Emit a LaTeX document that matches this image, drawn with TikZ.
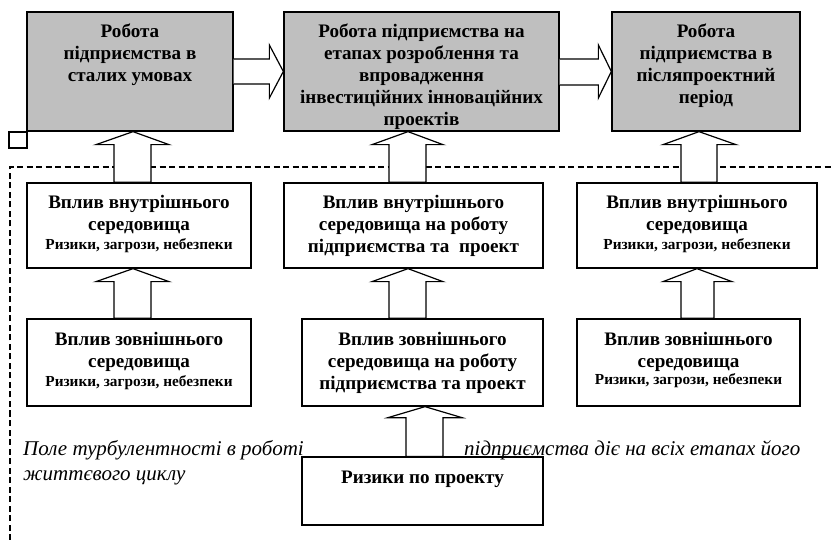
\documentclass[tikz,border=0pt]{standalone}
\usepackage{fontspec}
\setmainfont{Liberation Serif}
\usetikzlibrary{calc}
\newcommand{\mybig}{\bfseries\fontsize{19.1}{21.8}\selectfont}
\newcommand{\mysml}{\bfseries\fontsize{15.3}{17}\selectfont}
\newcommand{\myit}{\itshape\fontsize{21}{24.5}\selectfont}
\newcommand{\vblk}[8]{\draw[barrow] let \p1=(#1.north), \p2=(#2.south) in
  (#4pt,\y1) -- (#4pt,{\y2-#8pt}) -- (#6pt,{\y2-#8pt}) -- (#3pt,\y2) -- (#7pt,{\y2-#8pt}) -- (#5pt,{\y2-#8pt}) -- (#5pt,\y1) -- cycle;}
\newcommand{\hblk}[8]{\draw[barrow] let \p1=(#1.east), \p2=(#2.west) in
  (\x1,-#4pt) -- ({\x2-#8pt},-#4pt) -- ({\x2-#8pt},-#6pt) -- (\x2,-#3pt) -- ({\x2-#8pt},-#7pt) -- ({\x2-#8pt},-#5pt) -- (\x1,-#5pt);}
\begin{document}
\begin{tikzpicture}[x=1pt,y=-1pt,
  gbox/.style={draw,fill=gray!50,line width=1.3pt,inner sep=0pt},
  wbox/.style={draw,fill=white,line width=1.3pt,inner sep=0pt},
  btxt/.style={font=\mybig,align=center,inner sep=0pt,anchor=north},
  stxt/.style={font=\mysml,inner sep=0pt,anchor=center},
  itxt/.style={font=\myit,inner sep=0pt,anchor=base west},
  barrow/.style={draw,fill=white,line width=1.2pt,line join=miter},
  dashline/.style={line width=1.9pt,dash pattern=on 6pt off 3.5pt}]
\useasboundingbox (0,0) rectangle (831,540);
% field of turbulence
\draw[dashline] (10,540) -- (10,167) -- (831,167);
% top row
\node[gbox,minimum width=206,minimum height=119] (b1) at (130,71.5) {};
\node[gbox,minimum width=275,minimum height=119] (b2) at (421.5,71.5) {};
\node[gbox,minimum width=188,minimum height=119] (b3) at (706,71.5) {};
\node[draw,line width=1.1pt,minimum width=18,minimum height=16,inner sep=0pt] (sq) at (18,140) {};
% middle row
\node[wbox,minimum width=224,minimum height=85] (b4) at (139,225.5) {};
\node[wbox,minimum width=259,minimum height=85] (b5) at (413.5,225.5) {};
\node[wbox,minimum width=240,minimum height=85] (b6) at (697,225.5) {};
% bottom row
\node[wbox,minimum width=224,minimum height=87] (b7) at (139,362.5) {};
\node[wbox,minimum width=241,minimum height=87] (b8) at (422.5,362.5) {};
\node[wbox,minimum width=223,minimum height=87] (b9) at (688.5,362.5) {};
\node[wbox,minimum width=241,minimum height=68] (b10) at (422.5,491) {};
% texts
\node[btxt] (t1) at (130,24) {Робота\\підприємства в\\сталих умовах};
\node[btxt] (t2) at (421.5,24) {Робота підприємства на\\етапах розроблення та\\впровадження\\інвестиційних інноваційних\\проектів};
\node[btxt] (t3) at (706,24) {Робота\\підприємства в\\післяпроектний\\період};
\node[btxt] (t4) at (139,195) {Вплив внутрішнього\\середовища};
\node[stxt] (s4) at (139,246) {Ризики, загрози, небезпеки};
\node[btxt] (t5) at (413.5,195) {Вплив внутрішнього\\середовища на роботу\\підприємства та~ проект};
\node[btxt] (t6) at (697,195) {Вплив внутрішнього\\середовища};
\node[stxt] (s6) at (697,246) {Ризики, загрози, небезпеки};
\node[btxt] (t7) at (139,332) {Вплив зовнішнього\\середовища};
\node[stxt] (s7) at (139,383) {Ризики, загрози, небезпеки};
\node[btxt] (t8) at (422.5,332) {Вплив зовнішнього\\середовища на роботу\\підприємства та проект};
\node[btxt] (t9) at (688.5,332) {Вплив зовнішнього\\середовища};
\node[stxt] (s9) at (688.5,381) {Ризики, загрози, небезпеки};
\node[btxt] (t10) at (422.5,471) {Ризики по проекту};
\node[itxt] (i1) at (23,455) {Поле турбулентності в роботі};
\node[itxt] (i2) at (464,455) {підприємства діє на всіх етапах його};
\node[itxt] (i3) at (23,480) {життєвого циклу};
% block arrows
\hblk{b1}{b2}{71.5}{59}{84}{45}{98}{14}
\hblk{b2}{b3}{71.5}{59}{85}{45}{98}{13}
\vblk{b4}{b1}{133}{114}{151}{96}{169}{13}
\vblk{b5}{b2}{408}{389}{426}{372}{443}{13}
\vblk{b6}{b3}{699}{681}{717}{663}{736}{13}
\vblk{b7}{b4}{133}{114}{151}{96}{169}{13}
\vblk{b8}{b5}{408}{389}{426}{372}{443}{13}
\vblk{b9}{b6}{697}{681}{714}{663}{732}{13}
\vblk{b10}{b8}{425}{406}{443}{388}{462}{11}
\end{tikzpicture}
\end{document}
